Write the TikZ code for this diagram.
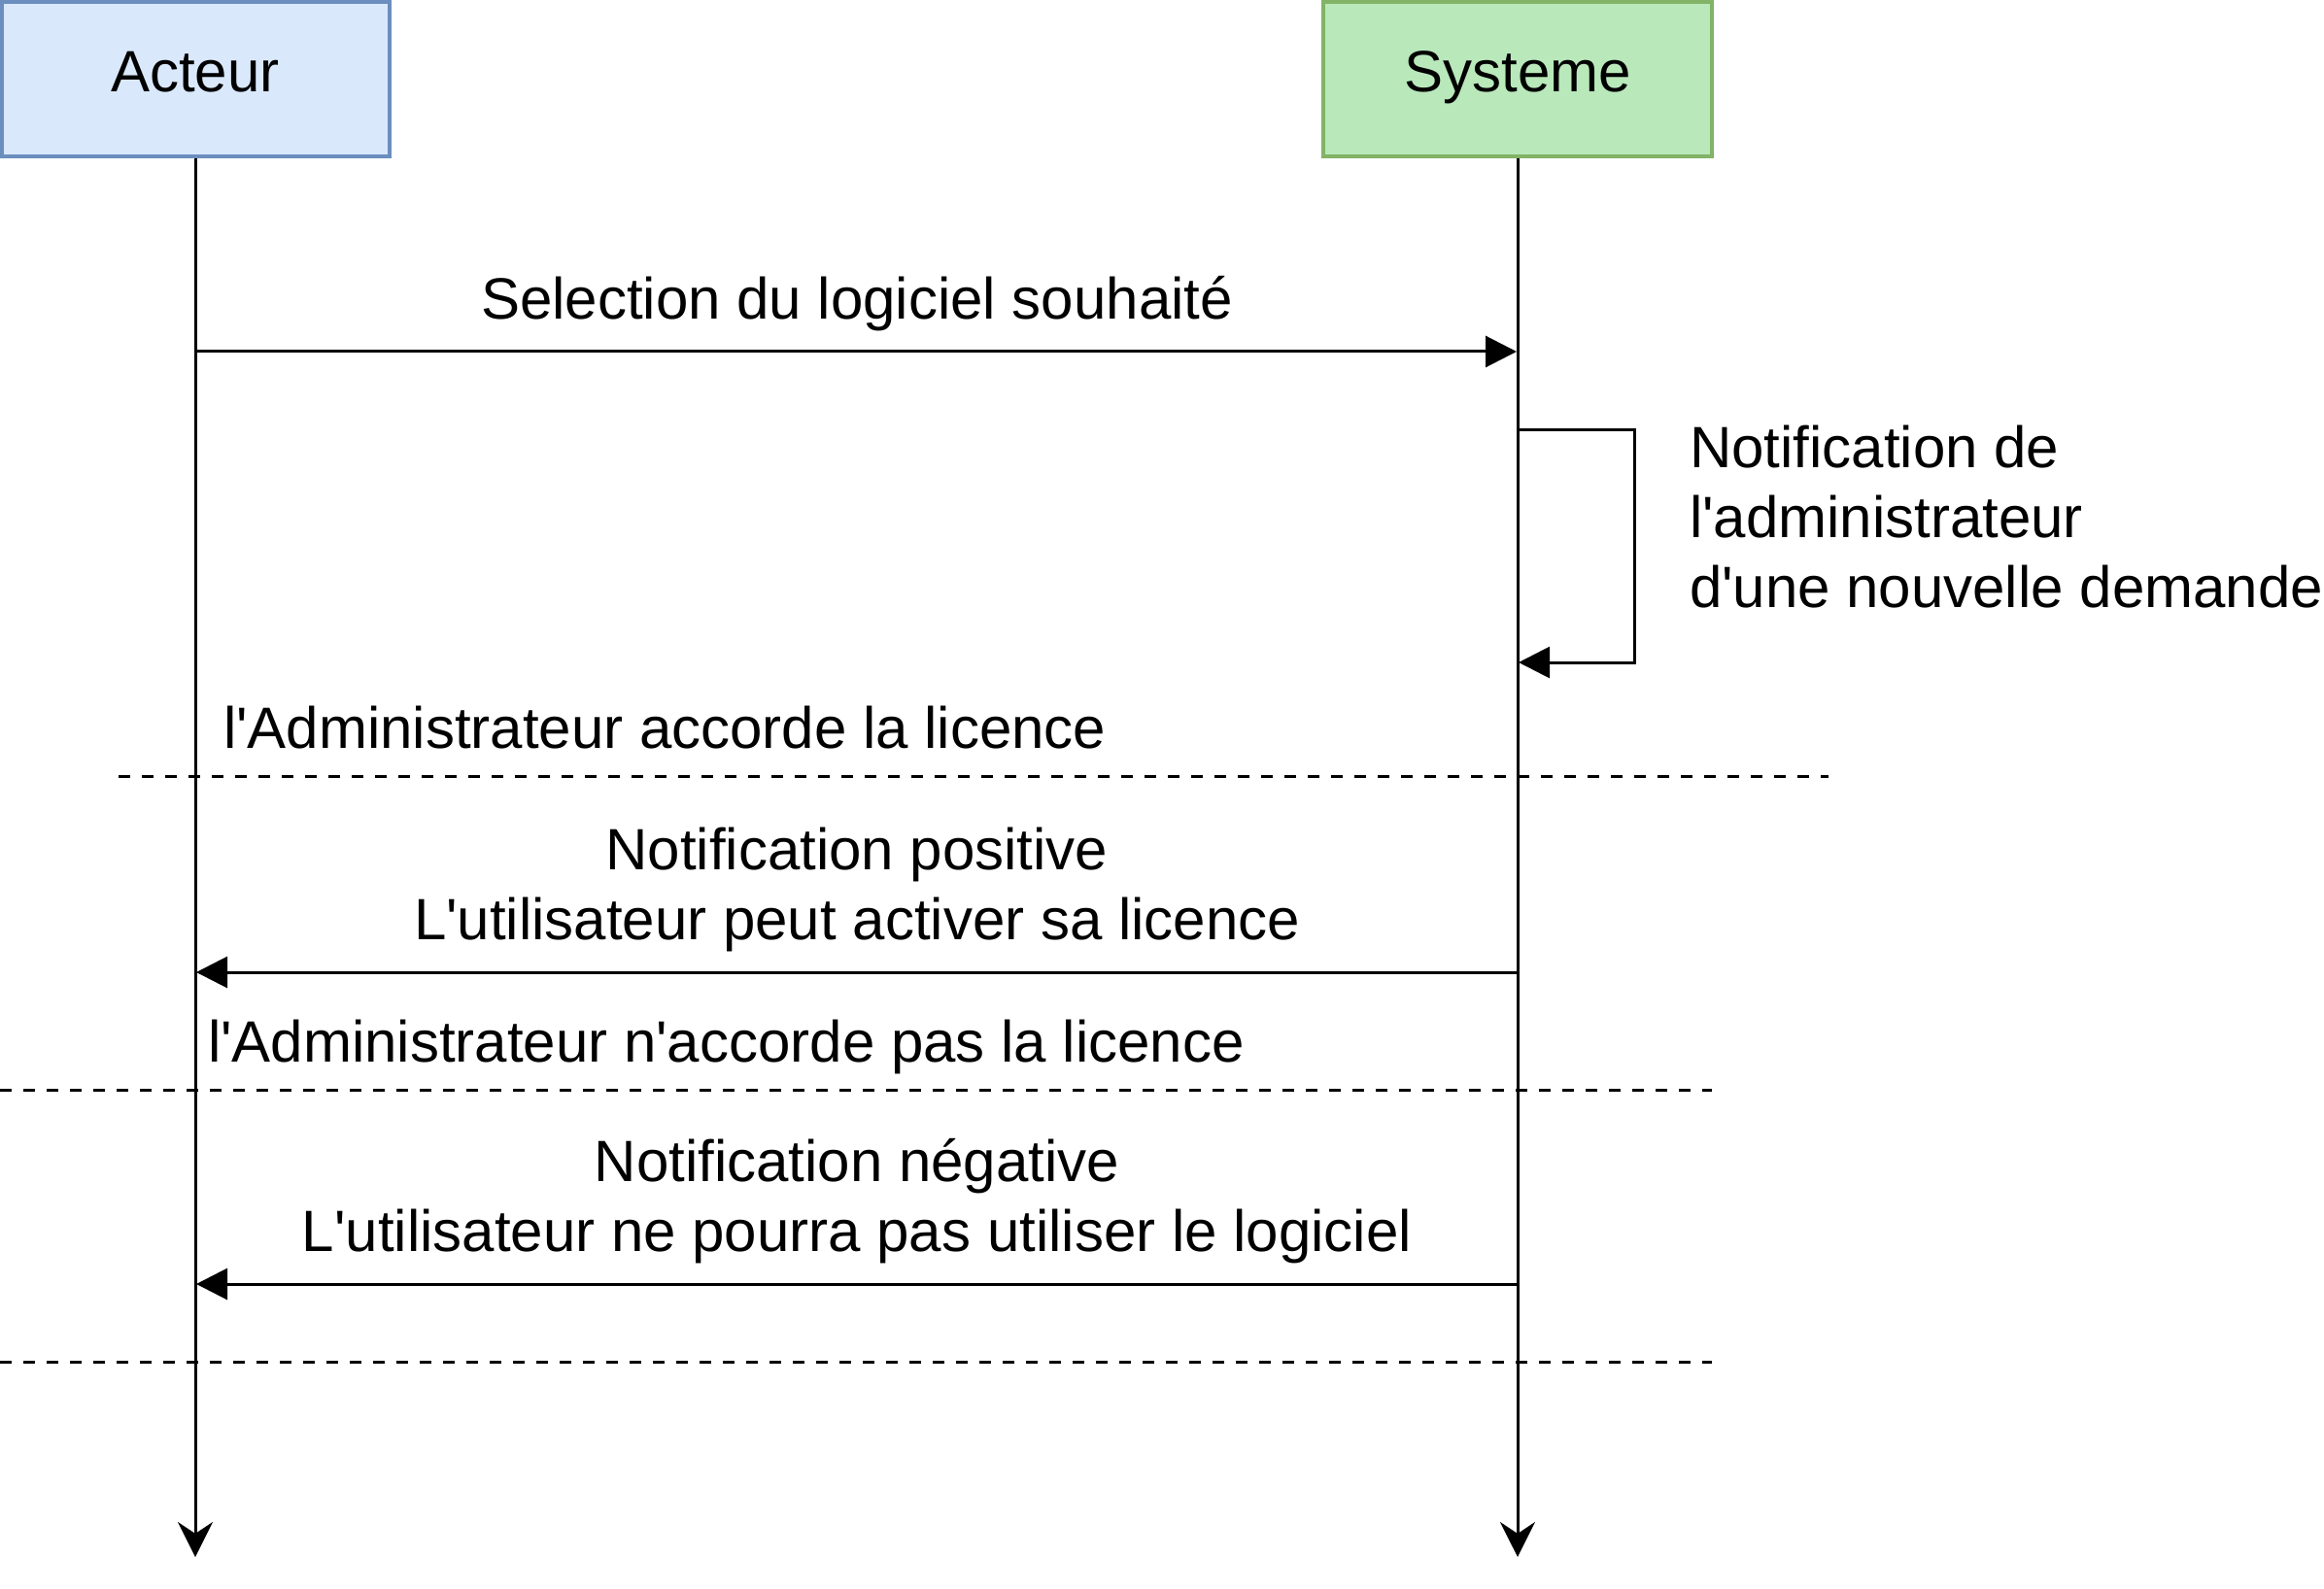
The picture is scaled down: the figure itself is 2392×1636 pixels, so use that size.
\documentclass[tikz,border=0pt]{standalone}
\usepackage{fontspec}
\setmainfont{Liberation Sans}[Ligatures=TeXOff]
\usetikzlibrary{arrows.meta}
\definecolor{actfill}{HTML}{DAE8FC}
\definecolor{actdraw}{HTML}{6C8EBF}
\definecolor{sysfill}{HTML}{B9E8BB}
\definecolor{sysdraw}{HTML}{82B366}
\tikzset{
  lbl/.style={font=\fontsize{30}{36}\selectfont, inner sep=0pt, outer sep=0pt},
  lifeline/.style={line width=1.5pt, -{Stealth[length=18pt, width=18pt, inset=6pt]}},
  msg/.style={line width=1.5pt, -{Triangle[length=16pt, width=16pt]}},
  sep/.style={line width=1.5pt, dash pattern=on 6pt off 6pt},
}
\begin{document}
\begin{tikzpicture}[x=0.5pt, y=-0.5pt]
\useasboundingbox (0,0) rectangle (2392,1636);
% head boxes
\draw[line width=2pt, draw=actdraw, fill=actfill] (2,2) rectangle (401,161);
\draw[line width=2pt, draw=sysdraw, fill=sysfill] (1362,2) rectangle (1762,161);
\node[lbl, anchor=base] (acteur) at (201,95) {Acteur};
\node[lbl, anchor=base] (systeme) at (1562,95) {Systeme};
\coordinate (aTop) at (201,163);
\coordinate (sTop) at (1562,163);
\coordinate (aEnd) at (201,1603);
\coordinate (sEnd) at (1562,1603);
\draw[lifeline] (aTop) -- (aEnd);
\draw[lifeline] (sTop) -- (sEnd);
% message 1
\coordinate (m1a) at (201,362);
\coordinate (m1s) at (1561,362);
\draw[msg] (m1a) -- (m1s);
\node[lbl, anchor=base] (m1lbl) at (882,329) {Selection du logiciel souhaité};
% self message
\coordinate (selfA) at (1562,443);
\coordinate (selfB) at (1682,443);
\coordinate (selfC) at (1682,682);
\coordinate (selfD) at (1563,682);
\draw[msg] (selfA) -- (selfB) -- (selfC) -- (selfD);
\node[lbl, anchor=base west, align=left] (selflbl) at (1739,625) {Notification de\\l'administrateur\\d'une nouvelle demande};
% separator 1
\coordinate (d1a) at (122,799);
\coordinate (d1b) at (1882,799);
\draw[sep] (d1a) -- (d1b);
\node[lbl, anchor=base west] (alt1) at (230,770) {l'Administrateur accorde la licence};
% message 2
\coordinate (m2s) at (1562,1001);
\coordinate (m2a) at (202,1001);
\draw[msg] (m2s) -- (m2a);
\node[lbl, anchor=base, align=center] (m2lbl) at (882,967) {Notification positive\\L'utilisateur peut activer sa licence};
% separator 2
\coordinate (d2a) at (0,1122);
\coordinate (d2b) at (1762,1122);
\draw[sep] (d2a) -- (d2b);
\node[lbl, anchor=base west] (alt2) at (214,1093) {l'Administrateur n'accorde pas la licence};
% message 3
\coordinate (m3s) at (1562,1322);
\coordinate (m3a) at (202,1322);
\draw[msg] (m3s) -- (m3a);
\node[lbl, anchor=base, align=center] (m3lbl) at (882,1288) {Notification négative\\L'utilisateur ne pourra pas utiliser le logiciel};
% separator 3
\coordinate (d3a) at (0,1402);
\coordinate (d3b) at (1762,1402);
\draw[sep] (d3a) -- (d3b);
\end{tikzpicture}
\end{document}
